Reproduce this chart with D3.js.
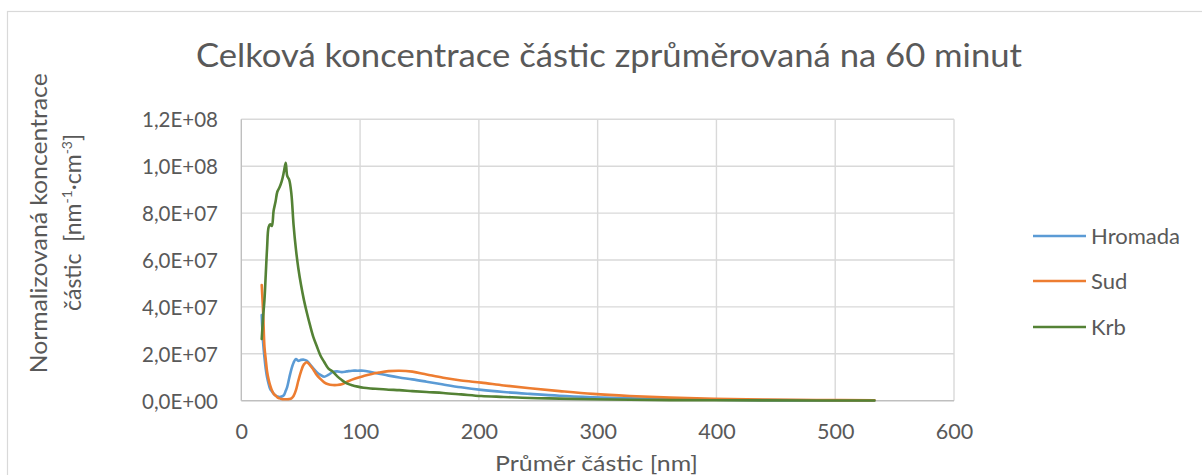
<!DOCTYPE html>
<html>
<head>
<meta charset="utf-8">
<script src="https://cdn.jsdelivr.net/npm/d3@7"></script>
<style>
  html, body { margin: 0; padding: 0; background: #ffffff; }
  svg { display: block; }
  text { font-family: Lato, "Open Sans", "Noto Sans", sans-serif; fill: #595959; white-space: pre; }
</style>
</head>
<body>
<svg id="chart" width="1202" height="475"></svg>
<script>
// ---- Data (values in units of 1E+07 nm^-1·cm^-3) ----
const diameters = [17.2, 18.4, 19.5, 20.6, 21.7, 23.0, 24.3, 25.7, 27.2, 28.8, 30.4, 32.2, 34.0, 35.9, 37.4, 38.6, 40.4, 42.2, 44.0, 46.0,
  48.0, 50.3, 52.7, 55.2, 57.8, 60.6, 63.5, 66.6, 69.8, 73.2, 76.8, 80.6, 84.6, 88.8, 93.3, 98.0, 103, 109, 116, 124,
  133, 144, 156, 170, 185, 202, 221, 243, 268, 296, 327, 361, 398, 439, 484, 533];

const hromada = [3.65, 2.45, 1.85, 1.35, 1.0, 0.72, 0.5, 0.4, 0.3, 0.22, 0.18, 0.16, 0.18, 0.24, 0.42, 0.58, 0.98, 1.35, 1.62, 1.78,
  1.7, 1.74, 1.75, 1.7, 1.55, 1.38, 1.22, 1.1, 1.02, 1.1, 1.22, 1.25, 1.22, 1.25, 1.28, 1.28, 1.28, 1.22, 1.15, 1.07,
  0.99, 0.91, 0.81, 0.69, 0.57, 0.46, 0.37, 0.29, 0.21, 0.15, 0.1, 0.07, 0.04, 0.025, 0.015, 0.01];

const sud = [4.93, 3.75, 2.3, 1.75, 1.25, 0.9, 0.65, 0.45, 0.3, 0.22, 0.14, 0.1, 0.07, 0.06, 0.06, 0.06, 0.07, 0.1, 0.2, 0.45,
  0.85, 1.25, 1.55, 1.64, 1.52, 1.33, 1.1, 0.93, 0.78, 0.7, 0.67, 0.67, 0.7, 0.8, 0.9, 0.98, 1.05, 1.13, 1.2, 1.26,
  1.28, 1.24, 1.12, 0.98, 0.86, 0.77, 0.65, 0.53, 0.41, 0.29, 0.2, 0.13, 0.085, 0.05, 0.03, 0.02];

const krb = [2.63, 3.6, 4.3, 5.4, 6.5, 7.4, 7.52, 7.45, 8.1, 8.48, 8.92, 9.1, 9.35, 9.77, 10.15, 9.6, 9.41, 8.8, 7.5, 6.45,
  5.65, 4.93, 4.3, 3.75, 3.23, 2.72, 2.33, 1.93, 1.65, 1.38, 1.25, 1.05, 0.88, 0.74, 0.66, 0.6, 0.55, 0.52, 0.5, 0.47,
  0.45, 0.41, 0.37, 0.33, 0.27, 0.2, 0.16, 0.115, 0.09, 0.06, 0.04, 0.025, 0.018, 0.012, 0.008, 0.006];

const seriesNames = ["Hromada", "Sud", "Krb"];
const seriesColors = ["#5B9BD5", "#ED7D31", "#548235"];

const xTicks = [0, 100, 200, 300, 400, 500, 600];
const xTickLabels = ["0", "100", "200", "300", "400", "500", "600"];
const yTicks = [0, 2, 4, 6, 8, 10, 12];
const yTickLabels = ["0,0E+00", "2,0E+07", "4,0E+07", "6,0E+07", "8,0E+07", "1,0E+08", "1,2E+08"];

const titleText = "Celková koncentrace částic zprůměrovaná na 60 minut";
const xTitleText = "Průměr částic [nm]";

// ---- Layout ----
const svg = d3.select("#chart");
const X0 = 241.3, X1 = 954, Y0 = 400.7, Y1 = 119.3;
const x = d3.scaleLinear().domain([0, 600]).range([X0, X1]);
const y = d3.scaleLinear().domain([0, 12]).range([Y0, Y1]);

function fit(sel, w) {
  sel.each(function () {
    const len = this.getComputedTextLength();
    if (len > 0) d3.select(this).attr("textLength", w).attr("lengthAdjust", "spacingAndGlyphs");
  });
}

// background + chart border
svg.append("rect").attr("x", 0).attr("y", 0).attr("width", 1202).attr("height", 475).attr("fill", "#fff");
svg.append("rect").attr("x", 7.5).attr("y", 11.5).attr("width", 1300).attr("height", 600)
  .attr("fill", "none").attr("stroke", "#d9d9d9").attr("stroke-width", 1.2);

// gridlines
const grid = svg.append("g");
grid.selectAll("line.h").data(yTicks.filter(d => d > 0)).enter().append("line")
  .attr("x1", X0).attr("x2", X1).attr("y1", d => y(d)).attr("y2", d => y(d))
  .attr("stroke", "#d9d9d9").attr("stroke-width", 1.4);
grid.selectAll("line.v").data(xTicks).enter().append("line")
  .attr("x1", d => x(d)).attr("x2", d => x(d)).attr("y1", Y1).attr("y2", Y0)
  .attr("stroke", d => d === 0 ? "#bfbfbf" : "#d9d9d9").attr("stroke-width", 1.4);
// x axis line
svg.append("line").attr("x1", X0).attr("x2", X1).attr("y1", Y0).attr("y2", Y0)
  .attr("stroke", "#bfbfbf").attr("stroke-width", 1.4);

// axes tick labels via d3 axes
const xAxis = d3.axisBottom(x).tickValues(xTicks).tickFormat((d, i) => xTickLabels[i]).tickSize(0).tickPadding(0);
const gx = svg.append("g").attr("transform", `translate(0,${Y0})`).call(xAxis);
gx.select(".domain").remove();
gx.selectAll("text").attr("y", 38.5).attr("dy", null).attr("font-size", 21.5)
  .attr("font-family", "Lato").attr("fill", "#595959");

const yAxis = d3.axisLeft(y).tickValues(yTicks).tickFormat((d, i) => yTickLabels[i]).tickSize(0).tickPadding(0);
const gy = svg.append("g").attr("transform", `translate(218,0)`).call(yAxis);
gy.select(".domain").remove();
gy.selectAll("text").attr("x", 0).attr("dy", 7.4).attr("font-size", 21)
  .attr("font-family", "Lato").attr("fill", "#595959");
fit(gy.selectAll("text"), 76);

// series lines
const allSeries = [hromada, sud, krb];
const line = d3.line()
  .x((d, i) => x(diameters[i]))
  .y(d => y(d))
  .curve(d3.curveCatmullRom.alpha(0.5));
svg.append("g").selectAll("path").data(allSeries).enter().append("path")
  .attr("d", d => line(d))
  .attr("fill", "none")
  .attr("stroke", (d, i) => seriesColors[i])
  .attr("stroke-width", 2.6)
  .attr("stroke-linejoin", "round")
  .attr("stroke-linecap", "round");

// title
const title = svg.append("text").attr("x", 609).attr("y", 67).attr("text-anchor", "middle")
  .attr("font-size", 33).text(titleText);
fit(title, 826);

// x axis title
const xt = svg.append("text").attr("x", 596.5).attr("y", 470.7).attr("text-anchor", "middle")
  .attr("font-size", 22).text(xTitleText);
fit(xt, 203);

// y axis title (two lines, rotated)
const yt1 = svg.append("text").attr("transform", "translate(47,223.3) rotate(-90)")
  .attr("text-anchor", "middle").attr("font-size", 23).text("Normalizovaná koncentrace");
fit(yt1, 300);
const yt2 = svg.append("text").attr("transform", "translate(81,222.5) rotate(-90)")
  .attr("text-anchor", "middle").attr("font-size", 23);
yt2.append("tspan").text("částic  [nm");
yt2.append("tspan").attr("font-size", 14).attr("dy", -9).text("-1");
yt2.append("tspan").attr("dy", 9).text("·cm");
yt2.append("tspan").attr("font-size", 14).attr("dy", -9).text("-3");
yt2.append("tspan").attr("dy", 9).text("]");

// legend
const legendY = [236, 281, 327];
const lg = svg.append("g");
seriesNames.forEach((name, i) => {
  lg.append("line").attr("x1", 1033).attr("x2", 1086).attr("y1", legendY[i]).attr("y2", legendY[i])
    .attr("stroke", seriesColors[i]).attr("stroke-width", 2.6);
  lg.append("text").attr("x", 1091).attr("y", legendY[i] + 8.3).attr("font-size", 22).text(name);
});
fit(lg.selectAll("text").filter((d, i) => i === 0), 89);
</script>
</body>
</html>
